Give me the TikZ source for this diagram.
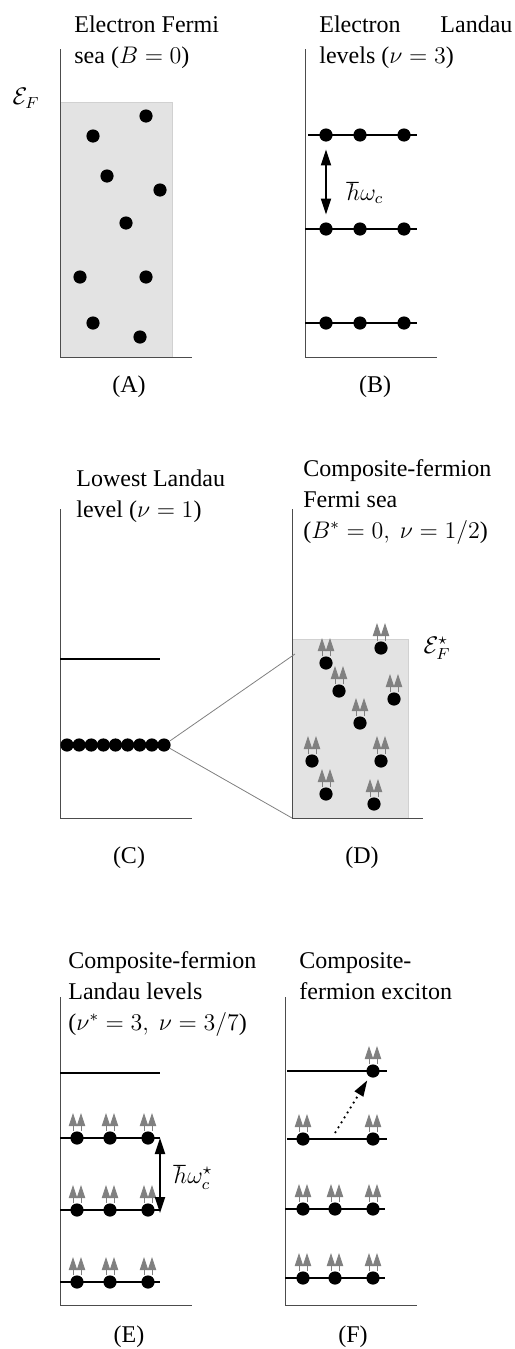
\documentclass[tikz,border=0pt]{standalone}
\usepackage{fontspec}
\setmainfont{Liberation Serif}
\usetikzlibrary{arrows.meta,calc}

\tikzset{%
  axis/.style={draw=black!70, line width=0.5pt},%
  level/.style={line width=1pt},%
  electron/.style={circle, fill=black, inner sep=0pt, minimum size=6.6pt},%
  flux/.style={draw=black!50, line width=0.4pt, -{Triangle[width=4.2pt,length=6.5pt,fill=black!50]}},%
  sea/.style={fill=black!11, draw=black!18, line width=0.5pt},%
  gap/.style={line width=1pt, {Triangle[width=5pt,length=8pt]}-{Triangle[width=5pt,length=8pt]}},%
  excite/.style={dotted, line width=0.9pt, -{Triangle[width=5pt,length=8pt]}, shorten >=2pt},%
  zoomline/.style={draw=black!50, line width=0.4pt},%
  title/.style={anchor=base west, align=left, inner sep=0pt},%
}
% two flux quanta on top of a composite fermion
\newcommand{\vortices}[1]{%
  \draw [flux] ($(#1.north)+(-4,0)$) to ++(0,-18);%
  \draw [flux] ($(#1.north)+(4,0)$) to ++(0,-18);%
}

\begin{document}
\begin{tikzpicture}[x=0.5pt, y=-0.5pt, every node/.style={font=\fontsize{12}{15.5}\selectfont}]%
  \useasboundingbox (0,0) rectangle (514,1349);%
  % (A) electron Fermi sea
  \fill [sea] (60,102) rectangle (172,357);%
  \draw [axis] (60,49) to (60,357) to (192,357);%
  \foreach \x/\y [count=\i] in {146/116, 93/136, 107/176, 160/190, 126/223, 80/277, 146/277, 93/323, 140/337}%
    \node [electron] (a\i) at (\x,\y) {};%
  \node (EF) at (26,98) {$\mathcal{E}_F$};%
  \node [title] (tA) at (74,63) {Electron Fermi\\sea ($B=0$)};%
  \node (pA) at (129,387) {(A)};%
  % (B) electron Landau levels
  \draw [axis] (305,49) to (305,357) to (437,357);%
  \draw [level] (308,135) to (417,135);%
  \draw [level] (305,229) to (417,229);%
  \draw [level] (305,323) to (417,323);%
  \foreach \y [count=\j] in {135,229,323}%
    \foreach \x [count=\i] in {326,360,404}%
      \node [electron] (b\j\i) at (\x,\y) {};%
  \draw [gap, shorten <=3.7pt, shorten >=3.7pt] (b11.south) to (b21.north);%
  \node (hw) at (365,193) {$\hbar\omega_c$};%
  \node [title] (tB) at (319,63) {\makebox[96.5pt][s]{Electron Landau}\\levels ($\nu=3$)};%
  \node (pB) at (375,387) {(B)};%
  % (C) lowest Landau level
  \draw [axis] (60,509) to (60,818) to (192,818);%
  \draw [level] (60,659) to (160,659);%
  \foreach \i in {1,...,9}%
    \node [electron] (c\i) at ({54.9+12.125*\i},745) {};%
  \node [title] (tC) at (76,517) {Lowest Landau\\level ($\nu=1$)};%
  \node (pC) at (129,858) {(C)};%
  % (D) composite-fermion Fermi sea
  \fill [sea] (292,639) rectangle (408,818);%
  \draw [axis] (292,509) to (292,818) to (423,818);%
  \coordinate (dtop) at (295,654);%
  \coordinate (dbot) at (292,818);%
  \draw [zoomline] (c9) to (dtop);%
  \draw [zoomline] (c9) to (dbot);%
  \foreach \x/\y [count=\i] in {326/663, 381/648, 339/691, 394/699, 360/723, 312/761, 381/761, 326/794, 374/804}{%
    \node [electron] (d\i) at (\x,\y) {};%
    \vortices{d\i}}%
  \node (EFs) at (437,648) {$\mathcal{E}_F^\star$};%
  \node [title] (tD) at (303,538) {Composite-fermion\\Fermi sea\\($B^*=0,\ \nu=1/2$)};%
  \node (pD) at (362,858) {(D)};%
  % (E) composite-fermion Landau levels
  \draw [axis] (60,997) to (60,1305) to (192,1305);%
  \draw [level] (60,1073) to (160,1073);%
  \draw [level] (60,1138) to (160,1138);%
  \draw [level] (60,1210) to (160,1210);%
  \draw [level] (60,1282) to (160,1282);%
  \foreach \y [count=\j] in {1138,1210,1282}%
    \foreach \x [count=\i] in {77,110,148}{%
      \node [electron] (e\j\i) at (\x,\y) {};%
      \vortices{e\j\i}}%
  \coordinate (e1r) at (160,1138);%
  \coordinate (e2r) at (160,1213);%
  \draw [gap] (e1r) to (e2r);%
  \node (hws) at (193,1177) {$\hbar\omega_c^\star$};%
  \node [title] (tE) at (68,1030) {Composite-fermion\\Landau levels\\($\nu^*=3,\ \nu=3/7$)};%
  \node (pE) at (129,1337) {(E)};%
  % (F) composite-fermion exciton
  \draw [axis] (285,997) to (285,1305) to (417,1305);%
  \draw [level] (287,1071) to (387,1071);%
  \draw [level] (287,1139) to (387,1139);%
  \draw [level] (285,1209) to (385,1209);%
  \draw [level] (285,1278) to (385,1278);%
  \node [electron] (f1) at (373,1071) {};%
  \node [electron] (f21) at (303,1139) {};%
  \node [electron] (f22) at (373,1139) {};%
  \foreach \y [count=\j from 3] in {1209,1278}%
    \foreach \x [count=\i] in {303,335,373}%
      \node [electron] (f\j\i) at (\x,\y) {};%
  \foreach \n in {f1,f21,f22,f31,f32,f33,f41,f42,f43}%
    \vortices{\n}%
  \coordinate (hole) at (335,1133);%
  \draw [excite] (hole) to (f1);%
  \node [title] (tF) at (299,999) {Composite-\\fermion exciton};%
  \node (pF) at (353,1337) {(F)};%
\end{tikzpicture}
\end{document}
